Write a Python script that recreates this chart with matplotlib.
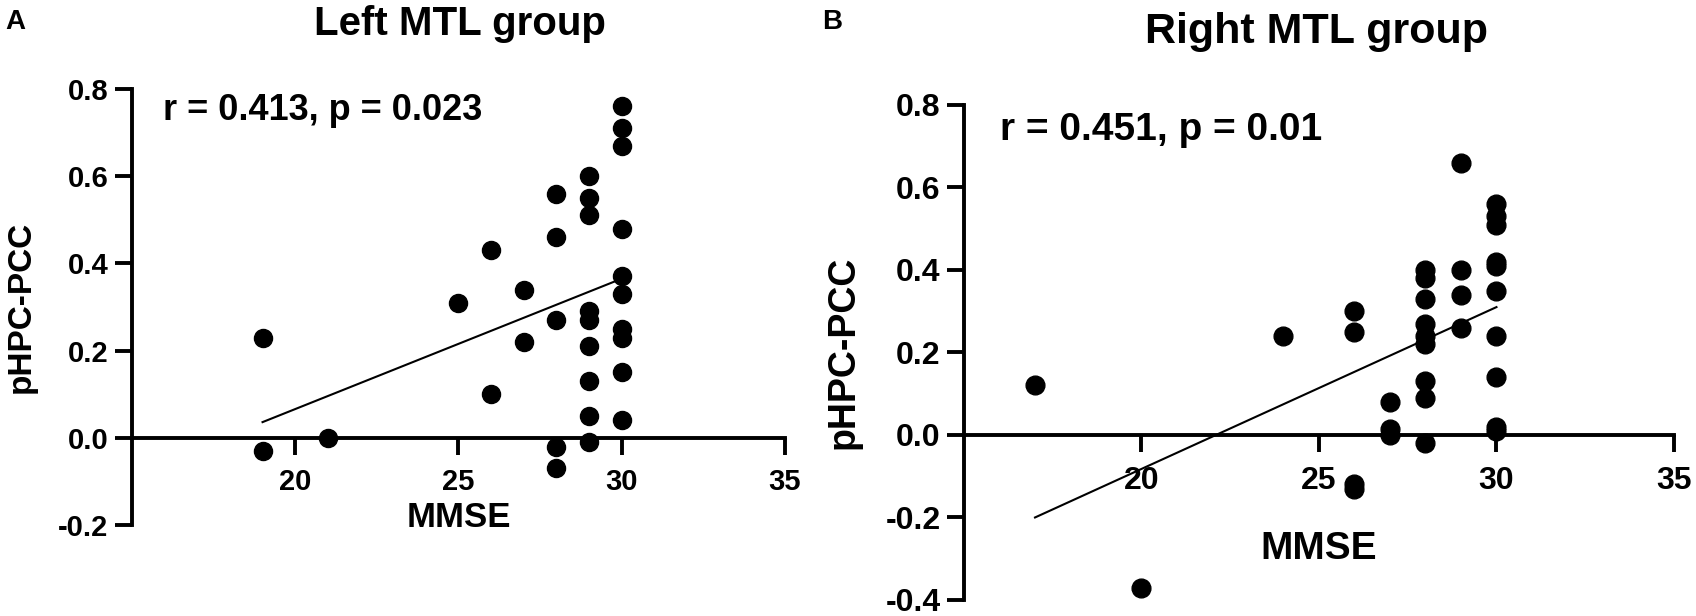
import matplotlib
matplotlib.use("Agg")
import matplotlib.pyplot as plt

plt.rcParams['font.family'] = ['Liberation Sans', 'DejaVu Sans']
plt.rcParams['font.weight'] = 'bold'

# ---- Data: Left MTL group ----
left_mmse = [19, 19, 21, 25, 26, 26, 27, 27,
             28, 28, 28, 28, 28,
             29, 29, 29, 29, 29, 29, 29, 29, 29,
             30, 30, 30, 30, 30, 30, 30, 30, 30, 30]
left_conn = [0.23, -0.03, 0.00, 0.31, 0.43, 0.10, 0.34, 0.22,
             0.56, 0.46, 0.27, -0.02, -0.07,
             0.60, 0.55, 0.51, 0.29, 0.27, 0.21, 0.13, 0.05, -0.01,
             0.76, 0.71, 0.67, 0.48, 0.37, 0.33, 0.25, 0.23, 0.15, 0.04]
left_fit_x = [19, 30]
left_fit_y = [0.036, 0.365]
left_stats = "r = 0.413, p = 0.023"

# ---- Data: Right MTL group ----
right_mmse = [17, 20, 24, 26, 26, 26, 26, 27, 27, 27,
              28, 28, 28, 28, 28, 28, 28, 28, 28,
              29, 29, 29, 29,
              30, 30, 30, 30, 30, 30, 30, 30, 30, 30]
right_conn = [0.12, -0.37, 0.24, 0.30, 0.25, -0.12, -0.13, 0.08, 0.015, 0.0,
              0.40, 0.38, 0.33, 0.27, 0.24, 0.22, 0.13, 0.09, -0.02,
              0.66, 0.40, 0.34, 0.26,
              0.56, 0.53, 0.51, 0.42, 0.41, 0.35, 0.24, 0.14, 0.02, 0.01]
right_fit_x = [17, 30]
right_fit_y = [-0.20, 0.31]
right_stats = "r = 0.451, p = 0.01"

x_ticks = [20, 25, 30, 35]
left_yticks = [-0.2, 0.0, 0.2, 0.4, 0.6, 0.8]
right_yticks = [-0.4, -0.2, 0.0, 0.2, 0.4, 0.6, 0.8]

fig = plt.figure(figsize=(16.96, 6.16), dpi=100)

def style_axes(ax, yticks, tick_fs, lab_fs, xlab_y, ylab_x):
    ax.set_xlim(15, 35)
    ax.set_ylim(yticks[0], yticks[-1])
    ax.spines['top'].set_visible(False)
    ax.spines['right'].set_visible(False)
    ax.spines['bottom'].set_position(('data', 0))
    for s in ('left', 'bottom'):
        ax.spines[s].set_linewidth(2.8)
        ax.spines[s].set_capstyle('projecting')
    ax.set_xticks(x_ticks)
    ax.set_yticks(yticks)
    ax.set_yticklabels([f"{v:.1f}" for v in yticks])
    ax.tick_params(axis='both', width=2.8, length=12, direction='out',
                   labelsize=tick_fs, color='black')
    ax.tick_params(axis='x', pad=10)
    ax.tick_params(axis='y', pad=5)
    for lab in ax.get_xticklabels() + ax.get_yticklabels():
        lab.set_fontweight('bold')
    ax.set_xlabel("MMSE", fontsize=lab_fs + 1, fontweight='bold')
    ax.set_ylabel("pHPC-PCC", fontsize=lab_fs, fontweight='bold')
    ax.xaxis.set_label_coords(0.5, xlab_y)
    ax.yaxis.set_label_coords(ylab_x, 0.5)

# Left panel
axL = fig.add_axes([0.0778, 0.1477, 0.385, 0.7078])
axL.plot(left_mmse, left_conn, 'o', color='black', markersize=13, clip_on=False, zorder=3)
axL.plot(left_fit_x, left_fit_y, '-', color='black', linewidth=1.5, zorder=2)
style_axes(axL, left_yticks, 21, 24, 0.055, -0.1455)
axL.text(15.95, 0.75, left_stats, fontsize=26, fontweight='bold', ha='left', va='center')

# Right panel
axR = fig.add_axes([0.5684, 0.026, 0.4186, 0.8036])
axR.plot(right_mmse, right_conn, 'o', color='black', markersize=13.5, clip_on=False, zorder=3)
axR.plot(right_fit_x, right_fit_y, '-', color='black', linewidth=1.5, zorder=2)
style_axes(axR, right_yticks, 23, 27, 0.14, -0.1437)
axR.text(16.0, 0.74, right_stats, fontsize=28, fontweight='bold', ha='left', va='center')

# Titles and panel letters
fig.text(0.271, 0.943, "Left MTL group", fontsize=29, fontweight='bold', ha='center', va='baseline')
fig.text(0.776, 0.930, "Right MTL group", fontsize=31, fontweight='bold', ha='center', va='baseline')
fig.text(0.003, 0.953, "A", fontsize=20, fontweight='bold', ha='left', va='baseline')
fig.text(0.485, 0.953, "B", fontsize=20, fontweight='bold', ha='left', va='baseline')

fig.savefig("out.png", dpi=100, facecolor='white')
